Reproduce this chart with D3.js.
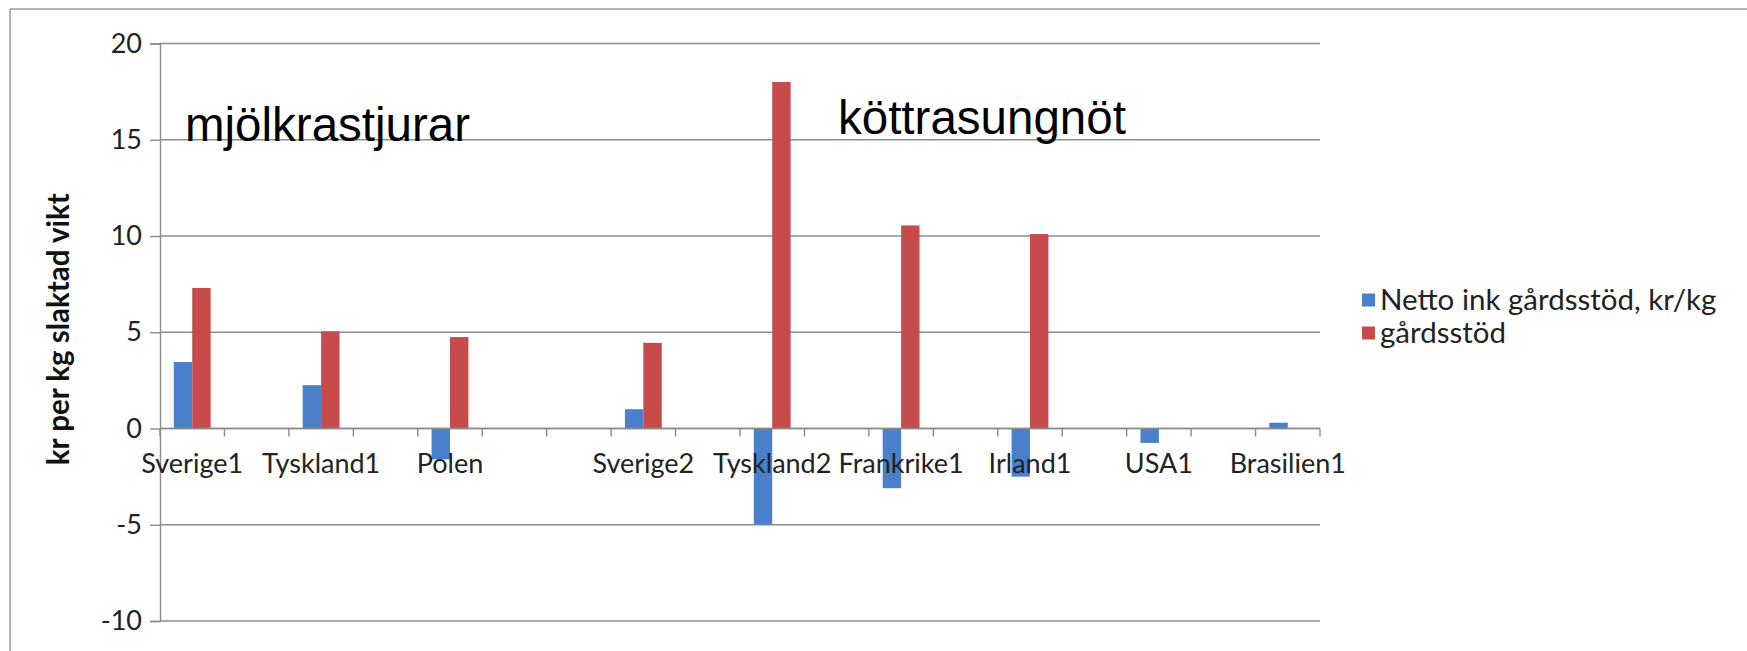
<!DOCTYPE html>
<html>
<head>
<meta charset="utf-8">
<script src="https://cdn.jsdelivr.net/npm/d3@7"></script>
<style>
  html, body { margin: 0; padding: 0; background: #fff; }
  svg { display: block; }
</style>
</head>
<body>
<svg id="chart" width="1747" height="651"></svg>
<script>
// ---- data ----
const categories = ["Sverige1", "", "Tyskland1", "", "Polen", "", "", "Sverige2", "", "Tyskland2", "", "Frankrike1", "", "Irland1", "", "USA1", "", "Brasilien1"];
const nettoValues = [3.45, null, 2.25, null, -1.6, null, null, 1.0, null, -5.0, null, -3.1, null, -2.5, null, -0.75, null, 0.3];
const stodValues  = [7.3, null, 5.05, null, 4.75, null, null, 4.45, null, 18.0, null, 10.55, null, 10.1, null, 0, null, 0];
const seriesNames = ["Netto ink gårdsstöd, kr/kg", "gårdsstöd"];
const yTicks = [-10, -5, 0, 5, 10, 15, 20];
const yTitle = "kr per kg slaktad vikt";
const groupLabels = ["mjölkrastjurar", "köttrasungnöt"];

// ---- layout ----
const colors = ["#4A7FCB", "#C84B4B"];
const plot = { left: 160, right: 1320, top: 43.5, bottom: 621 };
const labelFont = "Lato, 'Open Sans', sans-serif";

const svg = d3.select("#chart");

// outer frame (left and top edges visible)
svg.append("line").attr("x1", 10).attr("x2", 10).attr("y1", 9).attr("y2", 651)
  .attr("stroke", "#9a9a9a").attr("stroke-width", 1.5);
svg.append("line").attr("x1", 10).attr("x2", 1747).attr("y1", 9).attr("y2", 9)
  .attr("stroke", "#9a9a9a").attr("stroke-width", 1.5);

const x0 = d3.scaleBand().domain(d3.range(categories.length))
  .range([plot.left, plot.right]).paddingInner(0).paddingOuter(0);
const step = x0.bandwidth();
const barW = step / 3.5;
const x1 = d3.scaleBand().domain([0, 1]).range([(step - 2 * barW) / 2, (step + 2 * barW) / 2]);

const y = d3.scaleLinear().domain([-10, 20]).range([plot.bottom, plot.top]);

// gridlines
svg.append("g").selectAll("line").data(yTicks).join("line")
  .attr("x1", plot.left).attr("x2", plot.right)
  .attr("y1", d => y(d)).attr("y2", d => y(d))
  .attr("stroke", "#8c8c8c").attr("stroke-width", 1.4);

// y axis
const yAxis = svg.append("g").attr("transform", `translate(${plot.left},0)`)
  .call(d3.axisLeft(y).tickValues(yTicks).tickSize(10).tickPadding(8).tickFormat(d => String(d)));
yAxis.select(".domain").attr("stroke", "#8c8c8c").attr("stroke-width", 1.4);
yAxis.selectAll(".tick line").attr("stroke", "#8c8c8c").attr("stroke-width", 1.4);
yAxis.selectAll(".tick text").attr("font-family", labelFont).attr("font-size", 27).attr("fill", "#222");

// bars
const seriesData = [nettoValues, stodValues];
seriesData.forEach((vals, si) => {
  svg.append("g").selectAll("rect")
    .data(vals.map((v, i) => ({ i, v })).filter(d => d.v !== null))
    .join("rect")
    .attr("x", d => x0(d.i) + x1(si))
    .attr("width", x1.bandwidth())
    .attr("y", d => y(Math.max(0, d.v)))
    .attr("height", d => Math.abs(y(d.v) - y(0)))
    .attr("fill", colors[si]);
});

// x axis at zero
const xAxisG = svg.append("g").attr("transform", `translate(0,${y(0)})`);
xAxisG.append("line").attr("x1", plot.left).attr("x2", plot.right)
  .attr("stroke", "#8c8c8c").attr("stroke-width", 1.4);
// ticks at category boundaries
const bounds = d3.range(categories.length + 1).map(i => plot.left + i * step);
xAxisG.selectAll("line.tk").data(bounds).join("line").attr("class", "tk")
  .attr("x1", d => d).attr("x2", d => d).attr("y1", 0).attr("y2", 8)
  .attr("stroke", "#8c8c8c").attr("stroke-width", 1.4);
// labels
const xAxis = d3.axisBottom(x0).tickSize(0).tickPadding(0).tickFormat(i => categories[i]);
const xl = svg.append("g").attr("transform", `translate(0,${y(0)})`).call(xAxis);
xl.select(".domain").remove();
xl.selectAll(".tick text").attr("font-family", labelFont).attr("font-size", 27)
  .attr("fill", "#222").attr("dy", null).attr("y", 44);

// y title
svg.append("text")
  .attr("transform", `translate(69,${(plot.top + plot.bottom) / 2 - 3}) rotate(-90)`)
  .attr("text-anchor", "middle")
  .attr("font-family", labelFont).attr("font-weight", "bold").attr("font-size", 29.5)
  .attr("fill", "#111").text(yTitle);

// group labels
svg.append("text").attr("x", 185).attr("y", 141)
  .attr("font-family", "'Liberation Sans', Arial, sans-serif").attr("font-size", 47.5)
  .attr("fill", "#000").text(groupLabels[0]);
svg.append("text").attr("x", 838).attr("y", 134)
  .attr("font-family", "'Liberation Sans', Arial, sans-serif").attr("font-size", 47.5)
  .attr("fill", "#000").text(groupLabels[1]);

// legend
const legend = svg.append("g").attr("transform", "translate(1362,300)");
seriesNames.forEach((name, i) => {
  const g = legend.append("g").attr("transform", `translate(0,${i * 33})`);
  g.append("rect").attr("x", 0).attr("y", -6.5).attr("width", 13).attr("height", 13).attr("fill", colors[i]);
  g.append("text").attr("x", 18).attr("y", 0).attr("dy", "0.35em")
    .attr("font-family", labelFont).attr("font-size", 29.5).attr("fill", "#222").text(name);
});
</script>
</body>
</html>
